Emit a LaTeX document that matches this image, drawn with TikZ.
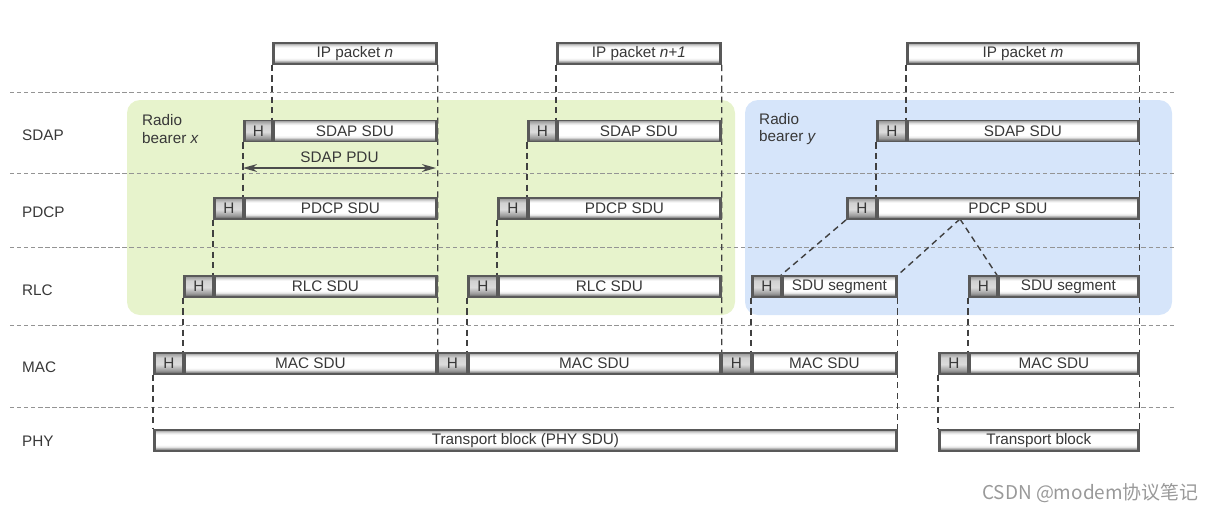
\documentclass[tikz,border=0pt]{standalone}
\usepackage{fontspec}
\setmainfont{Liberation Sans}
\newfontfamily\cjk{Noto Sans CJK SC}
\usetikzlibrary{arrows.meta}
\pgfdeclarelayer{back}
\pgfdeclarelayer{mid}
\pgfsetlayers{back,mid,main}
\pgfdeclareverticalshading{barshade}{100bp}{color(0bp)=(black!60); color(25bp)=(black!60); color(30bp)=(black!40); color(35bp)=(black!8); color(40bp)=(white); color(64bp)=(white); color(69bp)=(black!12); color(75bp)=(black!40); color(100bp)=(black!40)}
\pgfdeclareverticalshading{hshade}{100bp}{color(0bp)=(black!68); color(25bp)=(black!68); color(33bp)=(black!40); color(48bp)=(black!14); color(64bp)=(black!18); color(75bp)=(black!42); color(100bp)=(black!42)}
\definecolor{rbgreen}{RGB}{231,243,204}
\definecolor{rbblue}{RGB}{214,229,250}
\newcommand\fs{\fontsize{8.7}{10.2}\selectfont}
\newcommand\pbox[6]{\node[#6, minimum width={(#3-#2)*0.02cm}] (#1) at (#2,#4) {#5};}
\tikzset{
  bar/.style={draw=black!65, line width=1pt, shade, shading=barshade,
    minimum height={21*0.02cm}, inner sep=0pt, anchor=west, font=\fs, text=black!78,
    path picture={\draw[black!65, line width=2pt]
      (path picture bounding box.north west) -- (path picture bounding box.south west)
      (path picture bounding box.north east) -- (path picture bounding box.south east);}},
  hbox/.style={bar, shading=hshade},
  sep/.style={black!42, line width=0.5pt, dash pattern=on 2.5pt off 1.5pt},
  conn/.style={black!75, line width=0.8pt, dash pattern=on 3.5pt off 2.5pt},
  lbl/.style={anchor=west, font=\fs, text=black!78},
}
\begin{document}
\begin{tikzpicture}[x=0.02cm, y=-0.02cm]
\useasboundingbox (0,0) rectangle (1218,512);

% row labels
\node[lbl] (lsdap) at (16,135) {SDAP};
\node[lbl] (lpdcp) at (16,212) {PDCP};
\node[lbl] (lrlc) at (16,290) {RLC};
\node[lbl] (lmac) at (16,367) {MAC};
\node[lbl] (lphy) at (16,441) {PHY};

% radio bearer labels
\node[lbl, align=left] (rbx) at (136,129) {Radio\\bearer \textit{x}};
\node[lbl, align=left] (rby) at (753,129) {Radio\\bearer \textit{y}};

% IP packets
\pbox{ipn}{272}{436}{53.5}{IP packet \textit{n}}{bar}
\pbox{ipnn}{556}{720}{53.5}{IP packet \textit{n+1}}{bar}
\pbox{ipm}{906}{1138}{53.5}{IP packet \textit{m}}{bar}

% SDAP
\pbox{sh1}{243}{272}{131}{H}{hbox}
\pbox{ss1}{272}{436}{131}{SDAP SDU}{bar}
\pbox{sh2}{527}{556}{131}{H}{hbox}
\pbox{ss2}{556}{720}{131}{SDAP SDU}{bar}
\pbox{sh3}{876}{906}{131}{H}{hbox}
\pbox{ss3}{906}{1138}{131}{SDAP SDU}{bar}

% PDCP
\pbox{ph1}{213}{243}{208.5}{H}{hbox}
\pbox{ps1}{243}{436}{208.5}{PDCP SDU}{bar}
\pbox{ph2}{497}{527}{208.5}{H}{hbox}
\pbox{ps2}{527}{720}{208.5}{PDCP SDU}{bar}
\pbox{ph3}{846}{876}{208.5}{H}{hbox}
\pbox{ps3}{876}{1138}{208.5}{PDCP SDU}{bar}

% RLC
\pbox{rh1}{183}{213}{286.5}{H}{hbox}
\pbox{rs1}{213}{436}{286.5}{RLC SDU}{bar}
\pbox{rh2}{467}{497}{286.5}{H}{hbox}
\pbox{rs2}{497}{720}{286.5}{RLC SDU}{bar}
\pbox{rh3}{751}{781}{286.5}{H}{hbox}
\pbox{rs3}{781}{896}{286.5}{SDU segment}{bar}
\pbox{rh4}{968}{997}{286.5}{H}{hbox}
\pbox{rs4}{997}{1138}{286.5}{SDU segment}{bar}

% MAC
\pbox{mh1}{153}{183}{363.5}{H}{hbox}
\pbox{ms1}{183}{436}{363.5}{MAC SDU}{bar}
\pbox{mh2}{436}{467}{363.5}{H}{hbox}
\pbox{ms2}{467}{720}{363.5}{MAC SDU}{bar}
\pbox{mh3}{720}{751}{363.5}{H}{hbox}
\pbox{ms3}{751}{896}{363.5}{MAC SDU}{bar}
\pbox{mh4}{938}{968}{363.5}{H}{hbox}
\pbox{ms4}{968}{1138}{363.5}{MAC SDU}{bar}

% PHY
\pbox{tb1}{153}{896}{440.5}{Transport block (PHY SDU)}{bar}
\pbox{tb2}{938}{1138}{440.5}{Transport block}{bar}

% SDAP PDU arrow
\coordinate (pduL) at (243,168);
\coordinate (pduR) at (436,168);
\node[font=\fs, text=black!78] (pdulbl) at (339.5,157) {SDAP PDU};
\draw[black!70, line width=0.8pt, {Stealth[length=8pt,width=4.5pt]}-{Stealth[length=8pt,width=4.5pt]}] (pduL) -- (pduR);

% split point
\coordinate (split) at (960,219);

% watermark
\node[anchor=east, font=\cjk\fontsize{10.8}{12}\selectfont, text=black!40] (wm) at (1205,493) {CSDN @modem协议笔记};

\begin{pgfonlayer}{back}
  \fill[rbgreen, rounded corners=0.26cm] (127,100) rectangle (735,315);
  \fill[rbblue, rounded corners=0.26cm] (745,100) rectangle (1172,315);
\end{pgfonlayer}

\begin{pgfonlayer}{mid}
  \foreach \yy in {92,173,247,325,407} \draw[sep] (10,\yy) -- (1175,\yy);
  % first packet
  \draw[conn] (ipn.south west) -- (ss1.north west);
  \draw[conn] (ipn.south east) -- (ms1.north east);
  \draw[conn] (sh1.south west) -- (ps1.north west);
  \draw[conn] (ph1.south west) -- (rs1.north west);
  \draw[conn] (rh1.south west) -- (ms1.north west);
  \draw[conn] (mh1.south west) -- (tb1.north west);
  % second packet
  \draw[conn] (ipnn.south west) -- (ss2.north west);
  \draw[conn] (ipnn.south east) -- (ms2.north east);
  \draw[conn] (sh2.south west) -- (ps2.north west);
  \draw[conn] (ph2.south west) -- (rs2.north west);
  \draw[conn] (rh2.south west) -- (ms2.north west);
  % third packet
  \draw[conn] (ipm.south west) -- (ss3.north west);
  \draw[conn] (ipm.south east) -- (tb2.north east);
  \draw[conn] (sh3.south west) -- (ps3.north west);
  \draw[conn] (ph3.south west) -- (rs3.north west);
  \draw[conn] (split) -- (rs3.north east);
  \draw[conn] (split) -- (rs4.north west);
  \draw[conn] (rh3.south west) -- (ms3.north west);
  \draw[conn] (rs3.south east) -- (tb1.north east);
  \draw[conn] (rh4.south west) -- (ms4.north west);
  \draw[conn] (mh4.south west) -- (tb2.north west);
\end{pgfonlayer}
\end{tikzpicture}
\end{document}
